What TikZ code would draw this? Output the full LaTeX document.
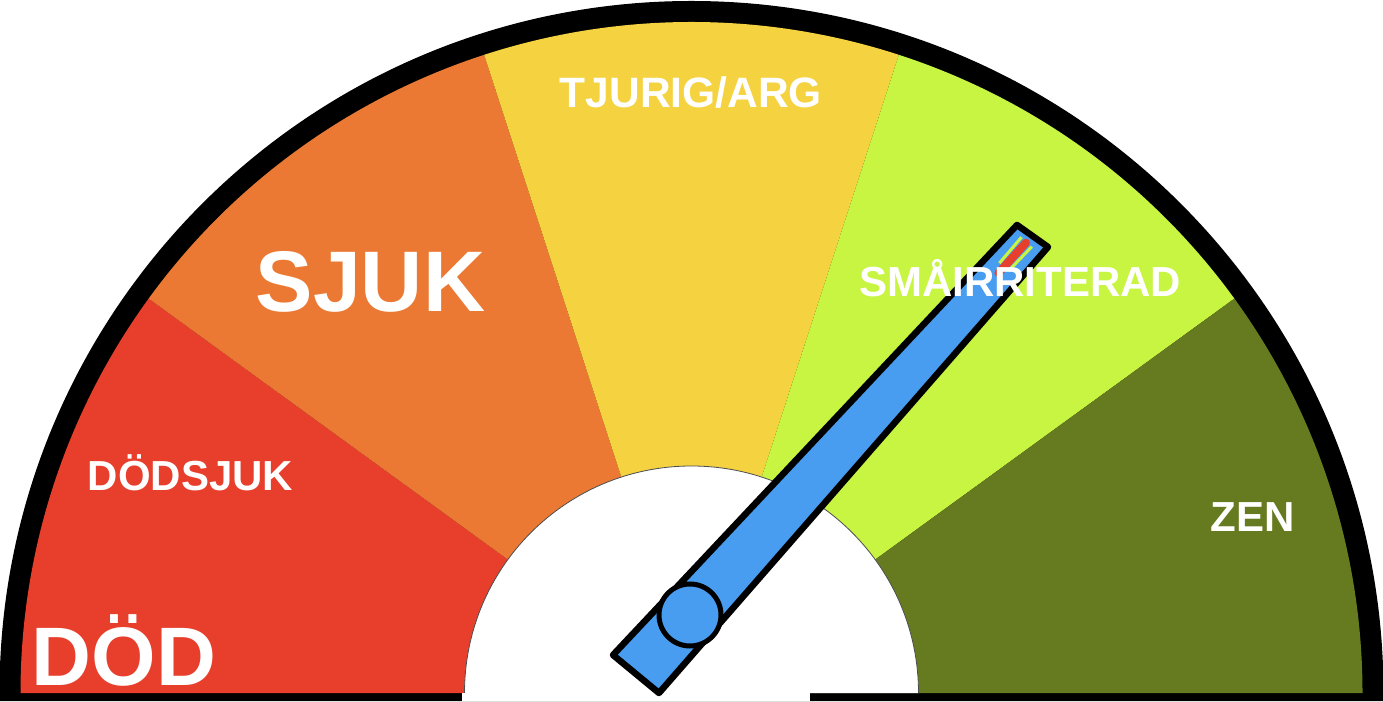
\documentclass[tikz,border=0pt]{standalone}
\usepackage{fontspec}
\setmainfont{Liberation Sans}
\usetikzlibrary{calc}
\definecolor{cRed}{RGB}{232,62,44}
\definecolor{cOrange}{RGB}{235,121,51}
\definecolor{cYellow}{RGB}{245,210,64}
\definecolor{cLight}{RGB}{199,245,66}
\definecolor{cDark}{RGB}{102,123,31}
\definecolor{cBlue}{RGB}{72,157,240}
\tikzset{
  lbl/.style={text=white, font=\bfseries, inner sep=0pt, anchor=base},
  needleline/.style={draw=black, line width=6.5pt, line join=round, fill=cBlue}
}
\begin{document}
\begin{tikzpicture}[x=1pt,y=1pt]
\useasboundingbox (0,0) rectangle (1383,701);
\coordinate (C) at (691.5,8);
% outer black rim
\fill[black] (-0.5,0) -- (-0.5,8) arc[start angle=180,end angle=0,radius=692] -- (1383.5,0) -- cycle;
% sectors
\fill[cRed]    (C) -- ++(180:671) arc[start angle=180,end angle=144,radius=671] -- cycle;
\fill[cOrange] (C) -- ++(144:671) arc[start angle=144,end angle=108,radius=671] -- cycle;
\fill[cYellow] (C) -- ++(108:671) arc[start angle=108,end angle=72,radius=671] -- cycle;
\fill[cLight]  (C) -- ++(72:671) arc[start angle=72,end angle=36,radius=671] -- cycle;
\fill[cDark]   (C) -- ++(36:671) arc[start angle=36,end angle=0,radius=671] -- cycle;
% inner white half disc
\fill[white] (C) ++(-227,0) arc[start angle=180,end angle=0,radius=227] -- cycle;
\draw[line width=0.8pt, black!70] (C) ++(-227,0) arc[start angle=180,end angle=0,radius=227];
\fill[white] (462,0) rectangle (810,8.5);
% needle
\coordinate (bl) at (613,46);
\coordinate (br) at (659,8);
\coordinate (tr) at (1048,454);
\coordinate (tl) at (1017,476);
\path[needleline] (bl) -- (br) -- (tr) -- (tl) -- cycle;
\coordinate (TC) at (1032,465);
\coordinate (u) at (0.671,0.742);
\coordinate (n) at (0.742,-0.671);
\draw[cLight, line width=3pt] ($(TC)+7*(n)-8*(u)$) -- ($(TC)+6*(n)-42*(u)$);
\draw[cLight, line width=3pt] ($(TC)-7*(n)-8*(u)$) -- ($(TC)-6*(n)-42*(u)$);
\draw[cRed, line width=8pt, line cap=round] ($(TC)-9*(u)$) -- ($(TC)-50*(u)$);
\node[circle, draw=black, line width=5pt, fill=cBlue, minimum size=62pt, inner sep=0pt] (hub) at (690,86) {};
% labels
\node[lbl, font=\bfseries\fontsize{42.5}{42.5}\selectfont] (tjurig) at (691,593) {TJURIG/ARG};
\node[lbl, font=\bfseries\fontsize{86}{86}\selectfont] (sjuk) at (370.5,389) {SJUK};
\node[lbl, font=\bfseries\fontsize{42}{42}\selectfont] (smaa) at (1020,404) {SMÅIRRITERAD};
\node[lbl, font=\bfseries\fontsize{42}{42}\selectfont] (dodsjuk) at (190.5,210) {DÖDSJUK};
\node[lbl, font=\bfseries\fontsize{42}{42}\selectfont] (zen) at (1252.5,169) {ZEN};
\node[lbl, font=\bfseries\fontsize{83}{83}\selectfont] (dod) at (124,16) {DÖD};
\end{tikzpicture}
\end{document}
